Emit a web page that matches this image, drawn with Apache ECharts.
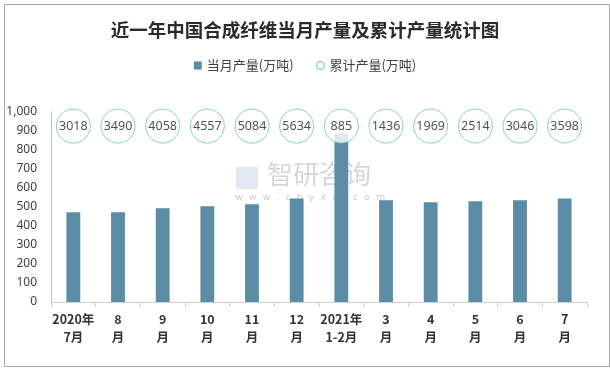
<!DOCTYPE html>
<html><head><meta charset="utf-8">
<script src="https://cdn.jsdelivr.net/npm/echarts@6/dist/echarts.min.js"></script>
<style>html,body{margin:0;padding:0;background:#fff}#c{width:610px;height:369px}</style>
</head><body><div id="c"></div>
<script>
const categories = ['2020年\n7月','8\n月','9\n月','10\n月','11\n月','12\n月','2021年\n1-2月','3\n月','4\n月','5\n月','6\n月','7\n月'];
const monthly = [472, 472, 493, 504, 514, 545, 885, 536, 525, 530, 536, 545];
const cumulative = [3018, 3490, 4058, 4557, 5084, 5634, 885, 1436, 1969, 2514, 3046, 3598];
const circleLevel = 926;

const chart = echarts.init(document.getElementById('c'));
chart.setOption({
  animation: false,
  backgroundColor: '#fff',
  title: {
    text: '近一年中国合成纤维当月产量及累计产量统计图',
    left: 'center', top: 16,
    textStyle: { fontFamily: 'Noto Sans CJK SC', fontWeight: 'bold', fontSize: 18.5, color: '#2b2b2b' }
  },
  legend: {
    top: 54, left: 'center', itemGap: 22, itemWidth: 8, itemHeight: 8,
    textStyle: { fontFamily: 'Noto Sans CJK SC', fontSize: 13, color: '#404040' },
    data: [
      { name: '当月产量(万吨)', icon: 'rect' },
      { name: '累计产量(万吨)', icon: 'circle', itemStyle: { color: '#fff', borderColor: '#7cc8c4', borderWidth: 1.5 } }
    ]
  },
  graphic: [
    { type: 'rect', left: 2, top: 2, shape: { width: 605, height: 362 }, style: { fill: 'none', stroke: '#a6a6a6', lineWidth: 1 }, silent: true },
    { type: 'rect', left: 236, top: 167, shape: { width: 22, height: 22 }, style: { fill: 'rgba(160,180,215,0.3)' }, silent: true },
    { type: 'text', left: 267, top: 161, style: { text: '智研咨询', fontSize: 26, fill: 'rgba(140,140,140,0.35)', fontFamily: 'Noto Sans CJK SC' }, silent: true },
    { type: 'text', left: 235, top: 193, style: { text: 'w  w  w  .  c  h  y  x  x  .  c  o  m', fontSize: 9.5, fill: 'rgba(140,140,140,0.45)', fontFamily: 'DejaVu Sans' }, silent: true }
  ],
  grid: { left: 51, right: 23, top: 112, bottom: 67 },
  xAxis: {
    type: 'category', data: categories,
    axisLine: { lineStyle: { color: '#d0d0d0' } },
    axisTick: { show: true, alignWithLabel: false, length: 5, lineStyle: { color: '#d0d0d0' } },
    axisLabel: { interval: 0, fontFamily: 'Noto Sans CJK SC', fontWeight: 'bold', fontSize: 12.5, color: '#333', lineHeight: 18, margin: 8 }
  },
  yAxis: {
    type: 'value', min: 0, max: 1000, interval: 100,
    axisLine: { show: true, lineStyle: { color: '#bfbfbf' } },
    axisTick: { show: false },
    splitLine: { show: false },
    axisLabel: { fontFamily: 'Noto Sans', fontSize: 12, color: '#404040', margin: 14,
      formatter: v => v.toLocaleString('en-US') }
  },
  series: [
    {
      name: '当月产量(万吨)', type: 'bar', data: monthly, barWidth: '31%',
      itemStyle: { color: '#5b8ea6' }
    },
    {
      name: '累计产量(万吨)', type: 'scatter', symbol: 'circle', symbolSize: 34,
      data: cumulative.map((v, i) => [i, circleLevel]),
      itemStyle: { color: '#fff', borderColor: '#6cc3bd', borderWidth: 1 },
      label: { show: true, position: 'inside', fontFamily: 'Noto Sans', fontSize: 12.5, color: '#262626',
        formatter: p => String(cumulative[p.dataIndex]) },
      z: 3
    }
  ]
});
</script></body></html>
